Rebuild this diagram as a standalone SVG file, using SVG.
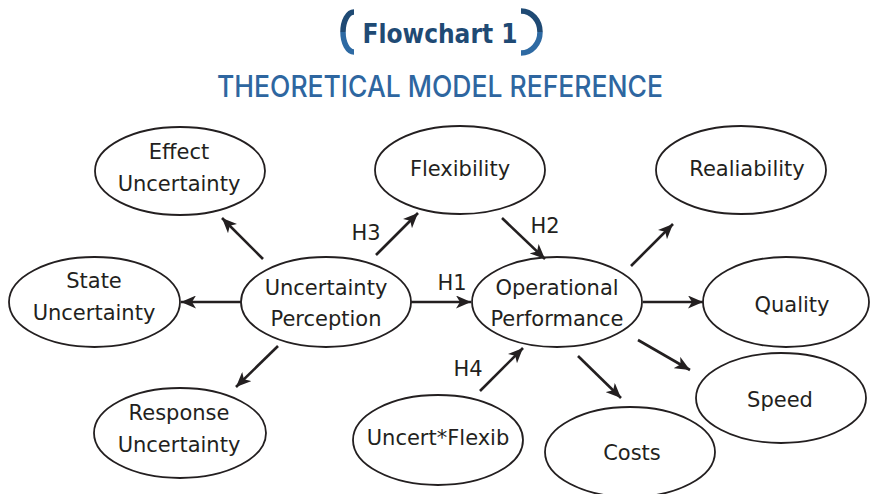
<svg xmlns="http://www.w3.org/2000/svg" width="870" height="494" viewBox="0 0 870 494">
<defs>
<style>
.node ellipse{fill:#fff;stroke:#231f20;stroke-width:1.8}
.node text,.lbl{font-family:"DejaVu Sans",sans-serif;font-size:21px;fill:#231f20;text-anchor:middle}
.conn line{stroke:#231f20;stroke-width:2.6;marker-end:url(#arr)}
.bt{fill:none;stroke:#1f4a74;stroke-width:5.5}
.bb{fill:none;stroke:#2e6aa3;stroke-width:5.5}
</style>
<marker id="arr" markerUnits="userSpaceOnUse" markerWidth="16" markerHeight="13" refX="15" refY="6.5" orient="auto" viewBox="0 0 16 13">
<path d="M0,0 L15,6.5 L0,13 L4,6.5 z" fill="#231f20"/>
</marker>
</defs>
<rect width="870" height="494" fill="#fff"/>
<g id="title">
<path class="bt" d="M354,12 A11,20 0 0 0 343,32"/>
<path class="bb" d="M343,32 A11,20 0 0 0 354,52"/>
<path class="bt" d="M521,11 A19,21 0 0 1 540,32"/>
<path class="bb" d="M540,32 A19,21 0 0 1 521,53"/>
<text x="440" y="43" text-anchor="middle" font-family="DejaVu Sans, sans-serif" font-weight="bold" font-size="26" fill="#1f4a74" textLength="155" lengthAdjust="spacingAndGlyphs">Flowchart 1</text>
<text x="440" y="97" text-anchor="middle" font-family="Inter, 'DejaVu Sans', sans-serif" font-weight="500" font-size="30" fill="#2e66a0" textLength="446" lengthAdjust="spacingAndGlyphs">THEORETICAL MODEL REFERENCE</text>
</g>
<g id="effect" class="node"><ellipse cx="180" cy="171" rx="85" ry="44"/><text x="179" y="159">Effect</text><text x="179" y="191">Uncertainty</text></g>
<g id="state" class="node"><ellipse cx="94.5" cy="302" rx="85.5" ry="45"/><text x="94" y="288">State</text><text x="94" y="320">Uncertainty</text></g>
<g id="response" class="node"><ellipse cx="180" cy="433" rx="86" ry="45"/><text x="179" y="420">Response</text><text x="179" y="452">Uncertainty</text></g>
<g id="perception" class="node"><ellipse cx="326" cy="302" rx="85" ry="45"/><text x="326" y="295">Uncertainty</text><text x="326" y="326">Perception</text></g>
<g id="flexibility" class="node"><ellipse cx="460" cy="170" rx="85" ry="44"/><text x="460" y="176">Flexibility</text></g>
<g id="interaction" class="node"><ellipse cx="438" cy="440" rx="85" ry="45"/><text x="438" y="445">Uncert*Flexib</text></g>
<g id="operational" class="node"><ellipse cx="557" cy="302" rx="85" ry="45"/><text x="557" y="295">Operational</text><text x="557" y="326">Performance</text></g>
<g id="reliability" class="node"><ellipse cx="741" cy="170" rx="85" ry="44"/><text x="747" y="176">Realiability</text></g>
<g id="quality" class="node"><ellipse cx="786" cy="302" rx="83" ry="45"/><text x="792" y="312">Quality</text></g>
<g id="speed" class="node"><ellipse cx="781" cy="398" rx="85" ry="45"/><text x="780" y="407">Speed</text></g>
<g id="costs" class="node"><ellipse cx="630" cy="452" rx="85" ry="45"/><text x="632" y="460">Costs</text></g>
<g id="connectors" class="conn">
<line x1="263" y1="259" x2="222" y2="218"/>
<line x1="241" y1="302" x2="181" y2="302"/>
<line x1="278" y1="346" x2="236" y2="387"/>
<line x1="376" y1="255" x2="418" y2="213"/>
<line x1="411" y1="302" x2="471" y2="302"/>
<line x1="502" y1="218" x2="545" y2="259"/>
<line x1="480" y1="391" x2="523" y2="348"/>
<line x1="631" y1="266" x2="673" y2="224"/>
<line x1="643" y1="302" x2="703" y2="302"/>
<line x1="638" y1="340" x2="690" y2="370"/>
<line x1="578" y1="356" x2="621" y2="398"/>
</g>
<g id="labels">
<text class="lbl" x="366" y="240">H3</text>
<text class="lbl" x="545" y="233">H2</text>
<text class="lbl" x="452" y="290">H1</text>
<text class="lbl" x="468" y="376">H4</text>
</g>
</svg>
